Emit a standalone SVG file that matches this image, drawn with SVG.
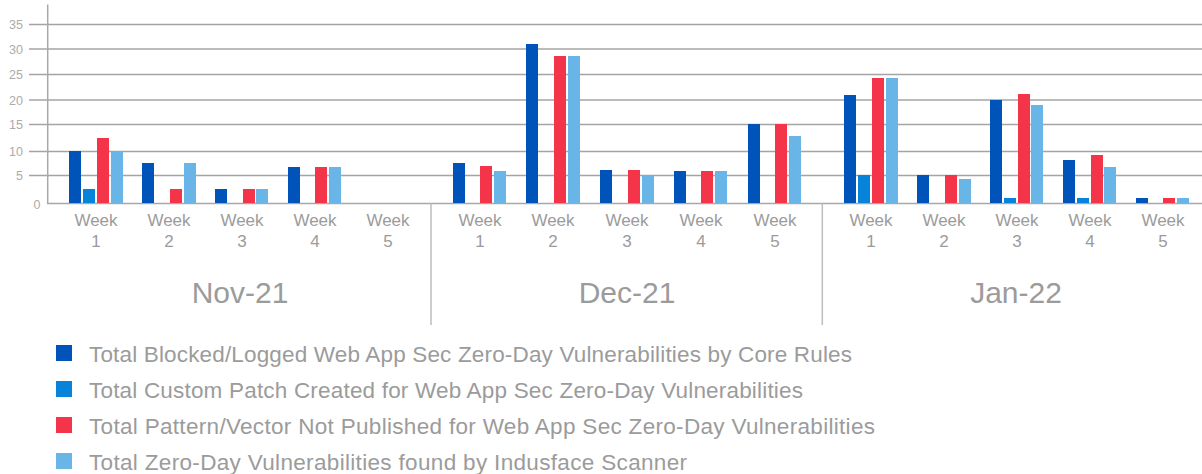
<svg xmlns="http://www.w3.org/2000/svg" width="1202" height="474" viewBox="0 0 1202 474">
<style>
.grid{stroke:#a4a4a4;stroke-width:1.3;fill:none}
.sep{stroke:#bdbdbd;stroke-width:1.5;fill:none}
.axis{stroke:#a8a8a8;stroke-width:1.5;fill:none}
.ylab{font-family:"Liberation Sans",Arial,sans-serif;font-size:12.5px;fill:#ababab;text-anchor:end}
.wk{font-family:"Liberation Sans",Arial,sans-serif;font-size:17px;fill:#9b9b9b;text-anchor:middle}
.mon{font-family:"Liberation Sans",Arial,sans-serif;font-size:30px;fill:#9b9b9b;text-anchor:middle}
.leg{font-family:"Liberation Sans",Arial,sans-serif;font-size:22.5px;fill:#9b9b9b}
.s1{fill:#0053b9}
.s2{fill:#0784da}
.s3{fill:#f43448}
.s4{fill:#69b5e7}
</style>
<rect width="1202" height="474" fill="#ffffff"/>
<g id="axes">
<line class="grid" x1="29" y1="24.5" x2="1202" y2="24.5"/>
<line class="grid" x1="29" y1="49" x2="1202" y2="49"/>
<line class="grid" x1="29" y1="74.5" x2="1202" y2="74.5"/>
<line class="grid" x1="29" y1="100" x2="1202" y2="100"/>
<line class="grid" x1="29" y1="124.5" x2="1202" y2="124.5"/>
<line class="grid" x1="29" y1="151.5" x2="1202" y2="151.5"/>
<line class="grid" x1="29" y1="175.5" x2="1202" y2="175.5"/>
<line class="axis" x1="47.7" y1="4.5" x2="47.7" y2="203.5"/>
<line class="axis" x1="47" y1="203.5" x2="1202" y2="203.5"/>
<line class="sep" x1="431" y1="203.5" x2="431" y2="325"/>
<line class="sep" x1="822.3" y1="203.5" x2="822.3" y2="325"/>
<text class="ylab" x="23" y="28.5">35</text>
<text class="ylab" x="23" y="53.5">30</text>
<text class="ylab" x="23" y="78.5">25</text>
<text class="ylab" x="23" y="104.5">20</text>
<text class="ylab" x="23" y="129">15</text>
<text class="ylab" x="23" y="156">10</text>
<text class="ylab" x="23" y="180">5</text>
<text class="ylab" x="40.5" y="208.5">0</text>
</g>
<g id="bars-nov">
<rect class="s1" x="69" y="151" width="12" height="52"/>
<rect class="s2" x="83" y="189" width="12" height="14"/>
<rect class="s3" x="97" y="138" width="12" height="65"/>
<rect class="s4" x="111" y="151" width="12" height="52"/>
<rect class="s1" x="142" y="163" width="12" height="40"/>
<rect class="s3" x="170" y="189" width="12" height="14"/>
<rect class="s4" x="184" y="163" width="12" height="40"/>
<rect class="s1" x="215" y="189" width="12" height="14"/>
<rect class="s3" x="243" y="189" width="12" height="14"/>
<rect class="s4" x="256" y="189" width="12" height="14"/>
<rect class="s1" x="288" y="167" width="12" height="36"/>
<rect class="s3" x="315" y="167" width="12" height="36"/>
<rect class="s4" x="329" y="167" width="12" height="36"/>
</g>
<g id="bars-dec">
<rect class="s1" x="453" y="163" width="12" height="40"/>
<rect class="s3" x="480" y="166" width="12" height="37"/>
<rect class="s4" x="494" y="171" width="12" height="32"/>
<rect class="s1" x="526" y="44" width="12" height="159"/>
<rect class="s3" x="554" y="56" width="12" height="147"/>
<rect class="s4" x="568" y="56" width="12" height="147"/>
<rect class="s1" x="600" y="170" width="12" height="33"/>
<rect class="s3" x="628" y="170" width="12" height="33"/>
<rect class="s4" x="642" y="175" width="12" height="28"/>
<rect class="s1" x="674" y="171" width="12" height="32"/>
<rect class="s3" x="701" y="171" width="12" height="32"/>
<rect class="s4" x="715" y="171" width="12" height="32"/>
<rect class="s1" x="748" y="124" width="12" height="79"/>
<rect class="s3" x="775" y="124" width="12" height="79"/>
<rect class="s4" x="789" y="136" width="12" height="67"/>
</g>
<g id="bars-jan">
<rect class="s1" x="844" y="95" width="12" height="108"/>
<rect class="s2" x="858" y="175" width="12" height="28"/>
<rect class="s3" x="872" y="78" width="12" height="125"/>
<rect class="s4" x="886" y="78" width="12" height="125"/>
<rect class="s1" x="917" y="175" width="12" height="28"/>
<rect class="s3" x="945" y="175" width="12" height="28"/>
<rect class="s4" x="959" y="179" width="12" height="24"/>
<rect class="s1" x="990" y="100" width="12" height="103"/>
<rect class="s2" x="1004" y="198" width="12" height="5"/>
<rect class="s3" x="1018" y="94" width="12" height="109"/>
<rect class="s4" x="1031" y="105" width="12" height="98"/>
<rect class="s1" x="1063" y="160" width="12" height="43"/>
<rect class="s2" x="1077" y="198" width="12" height="5"/>
<rect class="s3" x="1091" y="155" width="12" height="48"/>
<rect class="s4" x="1104" y="167" width="12" height="36"/>
<rect class="s1" x="1136" y="198" width="12" height="5"/>
<rect class="s3" x="1163" y="198" width="12" height="5"/>
<rect class="s4" x="1177" y="198" width="12" height="5"/>
</g>
<g id="week-labels">
<text class="wk" x="96" y="226">Week</text><text class="wk" x="96" y="247">1</text>
<text class="wk" x="169" y="226">Week</text><text class="wk" x="169" y="247">2</text>
<text class="wk" x="242" y="226">Week</text><text class="wk" x="242" y="247">3</text>
<text class="wk" x="315" y="226">Week</text><text class="wk" x="315" y="247">4</text>
<text class="wk" x="388" y="226">Week</text><text class="wk" x="388" y="247">5</text>
<text class="wk" x="480" y="226">Week</text><text class="wk" x="480" y="247">1</text>
<text class="wk" x="553" y="226">Week</text><text class="wk" x="553" y="247">2</text>
<text class="wk" x="627" y="226">Week</text><text class="wk" x="627" y="247">3</text>
<text class="wk" x="701" y="226">Week</text><text class="wk" x="701" y="247">4</text>
<text class="wk" x="775" y="226">Week</text><text class="wk" x="775" y="247">5</text>
<text class="wk" x="871" y="226">Week</text><text class="wk" x="871" y="247">1</text>
<text class="wk" x="944" y="226">Week</text><text class="wk" x="944" y="247">2</text>
<text class="wk" x="1017" y="226">Week</text><text class="wk" x="1017" y="247">3</text>
<text class="wk" x="1090" y="226">Week</text><text class="wk" x="1090" y="247">4</text>
<text class="wk" x="1163" y="226">Week</text><text class="wk" x="1163" y="247">5</text>
</g>
<g id="month-labels">
<text class="mon" x="240" y="303">Nov-21</text>
<text class="mon" x="627" y="303">Dec-21</text>
<text class="mon" x="1016" y="303">Jan-22</text>
</g>
<g id="legend">
<rect class="s1" x="56" y="345" width="16" height="16"/>
<text class="leg" x="89" y="361.5" textLength="763">Total Blocked/Logged Web App Sec Zero-Day Vulnerabilities by Core Rules</text>
<rect class="s2" x="56" y="381" width="16" height="16"/>
<text class="leg" x="89" y="397.5" textLength="714">Total Custom Patch Created for Web App Sec Zero-Day Vulnerabilities</text>
<rect class="s3" x="56" y="417" width="16" height="16"/>
<text class="leg" x="89" y="433.5" textLength="786">Total Pattern/Vector Not Published for Web App Sec Zero-Day Vulnerabilities</text>
<rect class="s4" x="56" y="453" width="16" height="16"/>
<text class="leg" x="89" y="469.5" textLength="598">Total Zero-Day Vulnerabilities found by Indusface Scanner</text>
</g>
</svg>
